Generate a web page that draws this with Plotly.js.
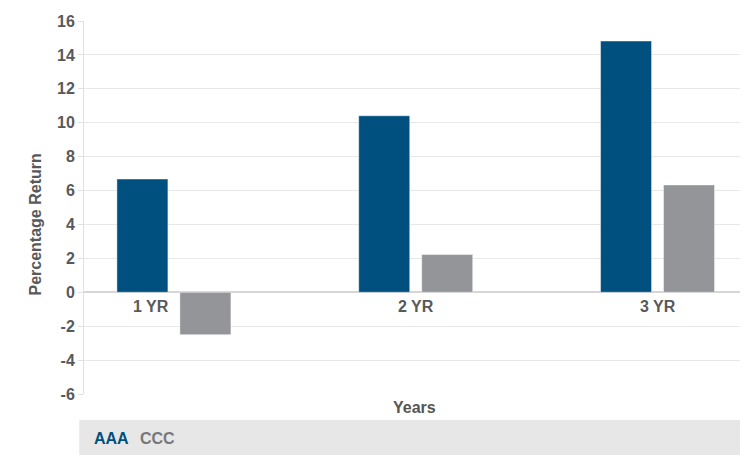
<!DOCTYPE html>
<html>
<head>
<meta charset="utf-8">
<script src="https://cdn.plot.ly/plotly-3.0.1.min.js"></script>
<style>html,body{margin:0;padding:0;background:#fff;}#chart{width:750px;height:464px;}</style>
</head>
<body>
<div id="chart"></div>
<script>
var categories = ["1 YR", "2 YR", "3 YR"];
var seriesNames = ["AAA", "CCC"];
var aaaValues = [6.68, 10.41, 14.82];
var cccValues = [-2.5, 2.23, 6.33];
var yTickValues = [-6, -4, -2, 0, 2, 4, 6, 8, 10, 12, 14, 16];
var xTitle = "Years";
var yTitle = "Percentage Return";

var colors = ["#00507f", "#939598"];
var legendTextColors = ["#00507f", "#77787b"];
var FONT = "'Liberation Sans', Arial, sans-serif";
var textGray = "#58595b";

var traces = [
  {type: "bar", name: seriesNames[0], x: categories, y: aaaValues,
   marker: {color: colors[0], line: {color: "rgba(255,255,255,0.45)", width: 1}}, hoverinfo: "y"},
  {type: "bar", name: seriesNames[1], x: categories, y: cccValues,
   marker: {color: colors[1], line: {color: "rgba(255,255,255,0.45)", width: 1}}, hoverinfo: "y"}
];

var annotations = [];
categories.forEach(function (c, i) {
  var neg = cccValues[i] < 0;
  annotations.push({
    x: c, y: 0, xref: "x", yref: "y", text: c, showarrow: false,
    xanchor: "center", yanchor: "middle", yshift: -14, xshift: neg ? -23 : 0,
    font: {family: FONT, size: 16, color: textGray, weight: 700}
  });
});
annotations.push({
  x: 0.5, y: 0, xref: "paper", yref: "paper", text: xTitle, showarrow: false,
  xanchor: "center", yanchor: "middle", yshift: -13, xshift: 2,
  font: {family: FONT, size: 16, color: "#555555", weight: 700}
});
annotations.push({
  x: 0, y: 0.5, xref: "paper", yref: "paper", text: yTitle, showarrow: false,
  textangle: -90, xanchor: "center", yanchor: "middle", xshift: -49, yshift: -17,
  font: {family: FONT, size: 16, color: textGray, weight: 700}
});
// legend texts
var legendX = [92, 138];
seriesNames.forEach(function (n, i) {
  annotations.push({
    x: 0, y: 0, xref: "paper", yref: "paper", text: n, showarrow: false,
    xanchor: "left", yanchor: "middle", xshift: legendX[i] - 84, yshift: -(438 - 394),
    font: {family: FONT, size: 16, color: legendTextColors[i], weight: 700}
  });
});

var layout = {
  width: 750, height: 464,
  margin: {l: 84, r: 10, t: 21, b: 70, pad: 0},
  paper_bgcolor: "#ffffff", plot_bgcolor: "#ffffff",
  showlegend: false,
  barmode: "group", bargap: 0.479, bargroupgap: 0.19,
  xaxis: {type: "category", range: [-0.3718, 2.341], showticklabels: false, ticks: "",
          showgrid: false, zeroline: false, showline: false, fixedrange: true},
  yaxis: {range: [-6, 16], tickvals: yTickValues, ticktext: yTickValues.map(String),
          showgrid: true, gridcolor: "#e8e8e8", gridwidth: 1,
          zeroline: true, zerolinecolor: "#d6d6d6", zerolinewidth: 2,
          showline: true, linecolor: "#e0e0e0", linewidth: 1,
          ticks: "outside", ticklen: 5, tickcolor: "#e0e0e0",
          tickfont: {family: FONT, size: 16, color: textGray, weight: 700}, fixedrange: true},
  shapes: [{type: "rect", xref: "paper", yref: "paper",
            x0: -0.0072, x1: 1, y0: -0.0697, y1: -0.1635,
            fillcolor: "#e7e7e7", line: {width: 0}, layer: "below"}],
  annotations: annotations
};

Plotly.newPlot("chart", traces, layout, {displayModeBar: false, staticPlot: true});
</script>
</body>
</html>
